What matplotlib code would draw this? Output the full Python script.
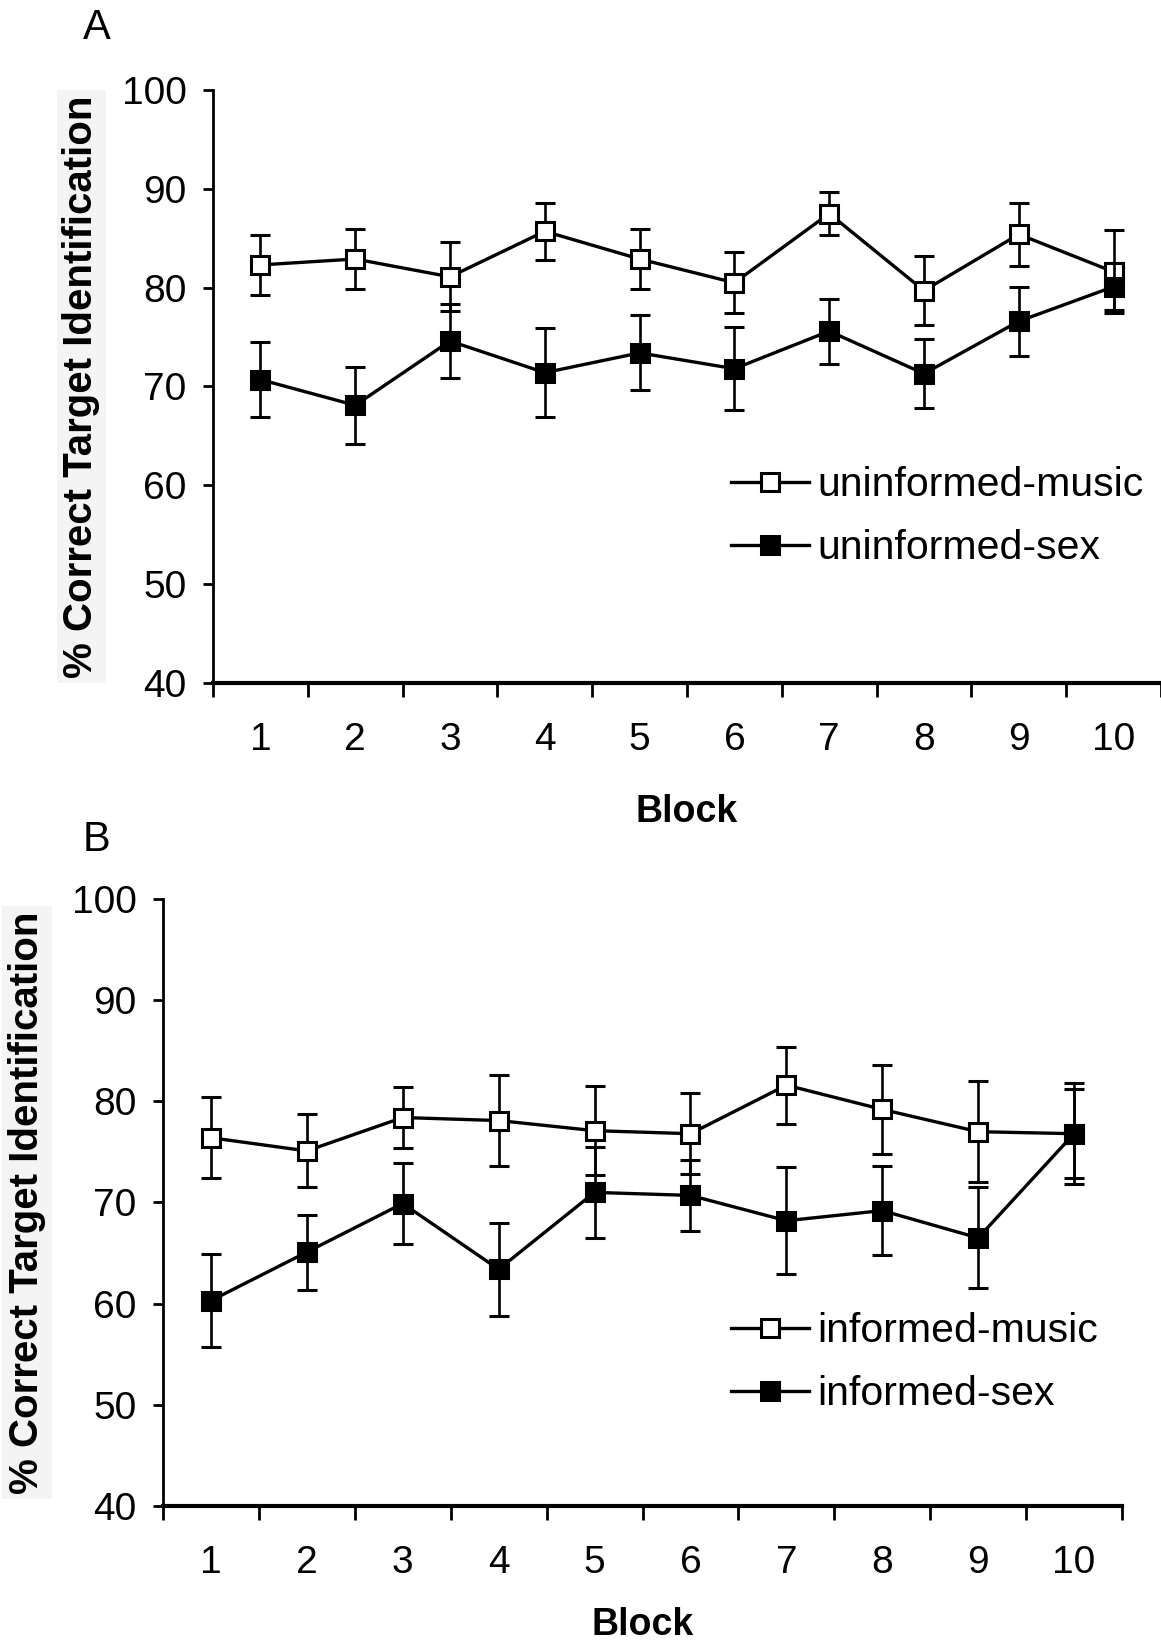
import numpy as np
import matplotlib.pyplot as plt
from matplotlib.lines import Line2D

plt.rcParams['font.family'] = ['Liberation Sans', 'DejaVu Sans']

blocks = np.arange(1, 11)
block_labels = [str(b) for b in blocks]

# panel A
uninf_music = [82.3, 82.9, 81.1, 85.7, 82.9, 80.5, 87.5, 79.7, 85.4, 81.6]
uninf_music_err = [3.0, 3.0, 3.5, 2.9, 3.0, 3.1, 2.2, 3.5, 3.2, 4.2]
uninf_sex = [70.7, 68.1, 74.6, 71.4, 73.4, 71.8, 75.6, 71.3, 76.6, 80.1]
uninf_sex_err = [3.8, 3.9, 3.7, 4.5, 3.8, 4.2, 3.3, 3.5, 3.5, 2.4]

# panel B
inf_music = [76.4, 75.1, 78.4, 78.1, 77.1, 76.8, 81.6, 79.2, 77.0, 76.8]
inf_music_err = [4.0, 3.6, 3.0, 4.5, 4.4, 4.0, 3.8, 4.4, 5.0, 4.4]
inf_sex = [60.3, 65.1, 69.9, 63.4, 71.0, 70.7, 68.2, 69.2, 66.5, 76.8]
inf_sex_err = [4.6, 3.7, 4.0, 4.6, 4.5, 3.5, 5.3, 4.4, 5.0, 5.0]

yticks = [40, 50, 60, 70, 80, 90, 100]

fig = plt.figure(figsize=(11.61, 16.43), dpi=100)
ax_a = fig.add_axes([213 / 1161, 960 / 1643, 948 / 1161, 593 / 1643])
ax_b = fig.add_axes([163 / 1161, 137 / 1643, 959 / 1161, 607 / 1643])


def draw_panel(ax, music, music_err, sex, sex_err, names, leg_anchor, lab_x,
               xlab_pad):
    style = dict(color='black', lw=2.4, elinewidth=1.9, capsize=7,
                 capthick=2.8, marker='s', ms=12.5, mec='black', mew=2.2)
    ax.errorbar(blocks, music, yerr=music_err, mfc='white', zorder=3, **style)
    ax.errorbar(blocks, sex, yerr=sex_err, mfc='black', zorder=4, **style)
    ax.set_xlim(0.5, 10.5)
    ax.set_ylim(40, 100)
    ax.set_yticks(yticks)
    ax.set_xticks(np.arange(0.5, 11, 1))
    ax.set_xticklabels([])
    ax.set_xticks(blocks, minor=True)
    ax.set_xticklabels(block_labels, minor=True)
    ax.tick_params(axis='x', which='major', direction='out', length=10,
                   width=2)
    ax.tick_params(axis='x', which='minor', length=0, pad=28, labelsize=28)
    ax.tick_params(axis='y', direction='out', length=7, width=2, pad=12,
                   labelsize=28)
    for s in ['top', 'right']:
        ax.spines[s].set_visible(False)
    ax.spines['left'].set_linewidth(2)
    ax.spines['bottom'].set_linewidth(3)
    ax.set_xlabel('Block', fontsize=27, fontweight='bold', labelpad=xlab_pad)
    ax.set_ylabel('% Correct Target Identification', fontsize=29,
                  fontweight='bold',
                  bbox=dict(facecolor='#f4f4f4', edgecolor='none', pad=4))
    ax.yaxis.set_label_coords(lab_x, 0.5)
    handles = [
        Line2D([], [], color='black', lw=2.4, marker='s', ms=12.5,
               mfc='white', mec='black', mew=2.2),
        Line2D([], [], color='black', lw=2.4, marker='s', ms=12.5,
               mfc='black', mec='black', mew=2.2),
    ]
    ax.legend(handles, names, loc='upper left', bbox_to_anchor=leg_anchor,
              frameon=False, fontsize=29.5, handlelength=1.9,
              handletextpad=0.2, labelspacing=0.62, borderpad=0,
              borderaxespad=0)


draw_panel(ax_a, uninf_music, uninf_music_err, uninf_sex, uninf_sex_err,
           ['uninformed-music', 'uninformed-sex'],
           ((731 - 213) / 948, (683 - 466) / 593), -0.119, 26)
draw_panel(ax_b, inf_music, inf_music_err, inf_sex, inf_sex_err,
           ['informed-music', 'informed-sex'],
           ((731 - 163) / 959, (1506 - 1312) / 607), -0.122, 19)

fig.text(83 / 1161, 1 - 28 / 1643, 'A', fontsize=30, va='center')
fig.text(83 / 1161, 1 - 840 / 1643, 'B', fontsize=30, va='center')

fig.savefig('out.png', dpi=100)
